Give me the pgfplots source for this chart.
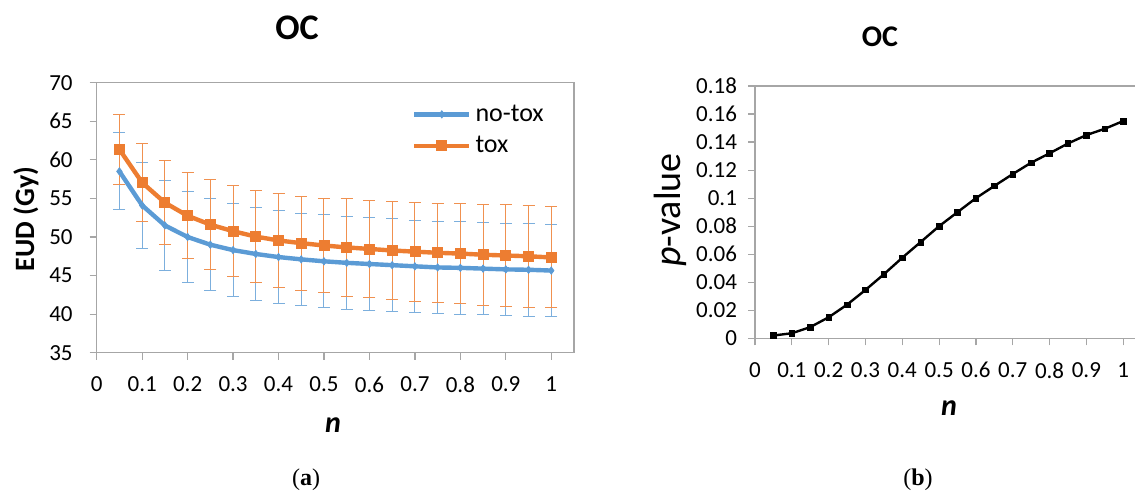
\documentclass[border=0pt]{standalone}
\usepackage{fontspec}
\setmainfont{Carlito}
\newfontfamily\seriffont{Liberation Serif}
\usepackage{pgfplots}
\pgfplotsset{compat=1.18}
\definecolor{notox}{HTML}{5B9BD5}
\definecolor{tox}{HTML}{ED7D31}
\definecolor{axisgray}{HTML}{A6A6A6}

\pgfplotsset{
  excel/.style={
    scale only axis, anchor=south west, clip=false,
    axis line style={axisgray, line width=0.6pt},
    tick style={axisgray, line width=0.6pt},
    tick align=outside, major tick length=3.5pt,
    xtick pos=left, ytick pos=left,
    ticklabel style={font=\fontsize{11.5}{13}\selectfont},
    /pgf/number format/assume math mode=true,
    xmin=0, xmax=1.05,
    xtick={0,0.1,0.2,0.3,0.4,0.5,0.6,0.7,0.8,0.9,1},
    xticklabel style={yshift=-5pt},
  },
}

\begin{document}
\begin{tikzpicture}
% (a) EUD against n
\begin{axis}[excel,
  at={(48.35pt,-176.35pt)}, width=238.65pt, height=135pt,
  ymin=35, ymax=70, ytick={35,40,45,50,55,60,65,70},
  yticklabel style={xshift=-5pt},
  legend cell align=left,
  legend style={at={(0.66,0.935)}, anchor=north west, draw=none, fill=none,
    font=\fontsize{13}{15}\selectfont, row sep=2pt, inner sep=0pt},
  legend image code/.code={\draw[mark repeat=2,mark phase=2,#1]
    plot coordinates {(0pt,0pt) (13.75pt,0pt) (27.5pt,0pt)};},
]
\addplot[notox, line width=2.2pt, mark=diamond*, mark size=1.8pt,
  mark options={line width=0.4pt},
  error bars/.cd, y dir=both, y explicit,
  error bar style={line width=0.5pt, notox!80},
  error mark options={rotate=90, line width=0.5pt, notox!80, mark size=3pt}]
  coordinates {
  (0.05,58.5) +- (0,5.0)  (0.10,54.1) +- (0,5.6)  (0.15,51.5) +- (0,5.8)
  (0.20,50.0) +- (0,5.9)  (0.25,49.0) +- (0,5.95) (0.30,48.3) +- (0,6.0)
  (0.35,47.8) +- (0,6.0)  (0.40,47.4) +- (0,6.0)  (0.45,47.1) +- (0,6.0)
  (0.50,46.85) +- (0,6.05) (0.55,46.65) +- (0,6.0) (0.60,46.5) +- (0,6.0)
  (0.65,46.35) +- (0,6.0) (0.70,46.2) +- (0,6.0)  (0.75,46.05) +- (0,6.0)
  (0.80,46.0) +- (0,6.0)  (0.85,45.9) +- (0,6.0)  (0.90,45.8) +- (0,6.0)
  (0.95,45.75) +- (0,6.0) (1.00,45.65) +- (0,6.0)
  };
\addplot[tox, line width=2.2pt, mark=square*, mark size=2.5pt,
  mark options={line width=0.4pt},
  error bars/.cd, y dir=both, y explicit,
  error bar style={line width=0.5pt, tox!85},
  error mark options={rotate=90, line width=0.5pt, tox!85, mark size=3pt}]
  coordinates {
  (0.05,61.35) +- (0,4.5)  (0.10,57.05) +- (0,5.05) (0.15,54.45) +- (0,5.45)
  (0.20,52.75) +- (0,5.6)  (0.25,51.6) +- (0,5.8)   (0.30,50.75) +- (0,5.9)
  (0.35,50.05) +- (0,6.0)  (0.40,49.55) +- (0,6.1)  (0.45,49.2) +- (0,6.1)
  (0.50,48.9) +- (0,6.15)  (0.55,48.65) +- (0,6.3)  (0.60,48.45) +- (0,6.3)
  (0.65,48.25) +- (0,6.35) (0.70,48.1) +- (0,6.4)   (0.75,47.95) +- (0,6.45)
  (0.80,47.85) +- (0,6.5)  (0.85,47.7) +- (0,6.55)  (0.90,47.6) +- (0,6.55)
  (0.95,47.5) +- (0,6.6)   (1.00,47.35) +- (0,6.55)
  };
\legend{no-tox, tox}
\end{axis}

% (b) p-value against n
\begin{axis}[excel,
  at={(377.5pt,-169.15pt)}, width=193.3pt, height=126.15pt,
  ymin=0, ymax=0.18,
  ytick={0,0.02,0.04,0.06,0.08,0.1,0.12,0.14,0.16,0.18},
  scaled y ticks=false,
  yticklabel style={/pgf/number format/fixed, /pgf/number format/precision=2, xshift=-2pt},
]
\addplot[black, line width=1.2pt, mark=square*, mark size=1.4pt,
  mark options={line width=0.3pt}]
  coordinates {
  (0.05,0.002) (0.10,0.0036) (0.15,0.008) (0.20,0.015) (0.25,0.024)
  (0.30,0.0345) (0.35,0.0457) (0.40,0.0575) (0.45,0.0687) (0.50,0.080)
  (0.55,0.090) (0.60,0.100) (0.65,0.1087) (0.70,0.1172) (0.75,0.1253)
  (0.80,0.132) (0.85,0.139) (0.90,0.145) (0.95,0.1495) (1.00,0.155)
  };
\end{axis}

\node[font=\bfseries\fontsize{18}{20}\selectfont] at (148.5pt,-14pt) {OC};
\node[font=\bfseries\fontsize{15}{17}\selectfont] at (440pt,-18.35pt) {OC};
\node[rotate=90, font=\bfseries\fontsize{14}{16}\selectfont] at (13pt,-109.5pt) {EUD (Gy)};
\node[rotate=90, font=\fontsize{19}{21}\selectfont] at (335pt,-105pt) {\textit{p}-value};
\node[font=\bfseries\itshape\fontsize{15}{17}\selectfont] at (166.5pt,-212.5pt) {n};
\node[font=\bfseries\itshape\fontsize{15}{17}\selectfont] at (474.5pt,-204pt) {n};
\node[font=\seriffont\fontsize{12}{14}\selectfont] at (153pt,-240pt) {(\textbf{a})};
\node[font=\seriffont\fontsize{12}{14}\selectfont] at (459pt,-240pt) {(\textbf{b})};

\pgfresetboundingbox
\useasboundingbox (0pt,0pt) rectangle (567.5pt,-250pt);
\end{tikzpicture}
\end{document}
